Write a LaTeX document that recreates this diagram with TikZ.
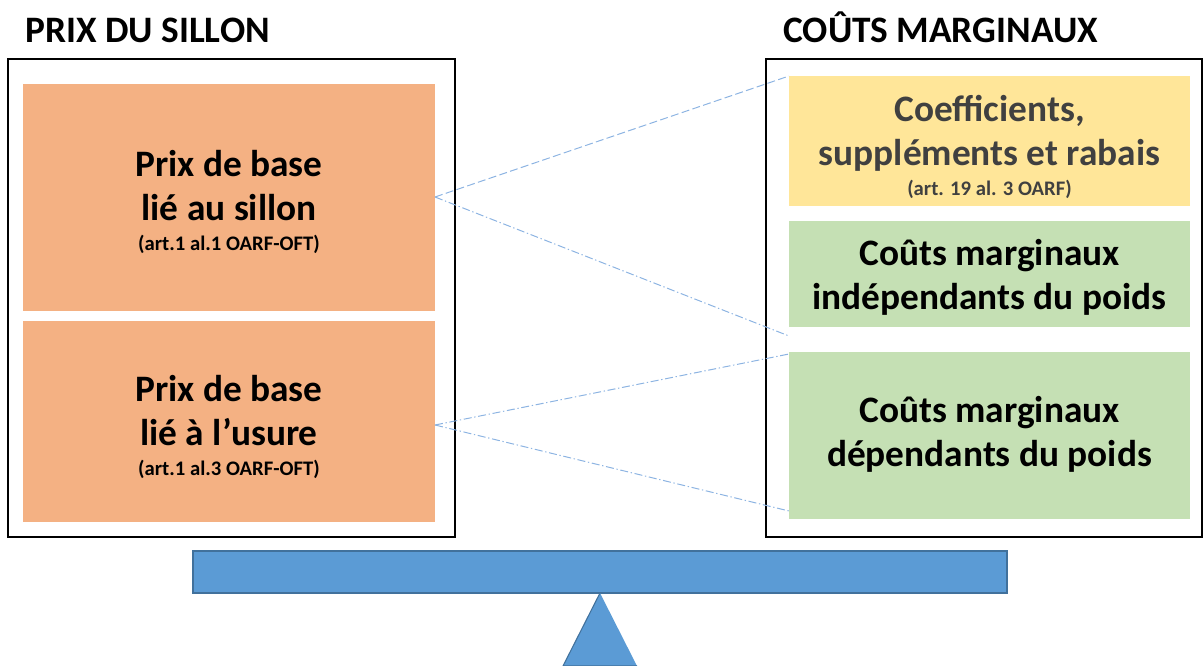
\documentclass[tikz,border=0pt]{standalone}
\usepackage{fontspec}
\setmainfont{Carlito}
\definecolor{orangebox}{HTML}{F4B183}
\definecolor{yellowbox}{HTML}{FFE699}
\definecolor{greenbox}{HTML}{C5E0B4}
\definecolor{beamblue}{HTML}{5B9BD5}
\definecolor{beamedge}{HTML}{41719C}
\definecolor{linkblue}{HTML}{8DB4E2}
\definecolor{graytext}{HTML}{404040}
\tikzset{
  frame/.style={draw=black, line width=1.2pt},
  pbox/.style={inner sep=0pt, align=center, font=\bfseries\fontsize{28}{33}\selectfont},
  title/.style={anchor=base west, inner sep=0pt, font=\bfseries\fontsize{28}{33}\selectfont},
  linkdash/.style={draw=linkblue, line width=0.75pt, dash pattern=on 6pt off 2.5pt},
  linkdot/.style={draw=linkblue, line width=0.75pt, dash pattern=on 6pt off 2pt on 1pt off 2pt},
}
\newcommand{\smalltxt}[1]{{\fontsize{15.5}{18}\selectfont #1}}
\begin{document}
\begin{tikzpicture}[x=0.75pt, y=-0.75pt]
\useasboundingbox (0,0) rectangle (1203,666);
% titles
\node[title] (t1) at (25,43) {PRIX DU SILLON};
\node[title] (t2) at (783,43) {COÛTS MARGINAUX};
% frames
\draw[frame] (8,59) rectangle (455,537);
\draw[frame] (766,59) rectangle (1202,537);
% left boxes
\fill[orangebox] (23,84) rectangle (435,311);
\node[pbox] (pb1) at (229,202) {Prix de base\\lié au sillon\\[-10.5pt]\smalltxt{(art.1 al.1 OARF-OFT)}};
\coordinate (pb1e) at (435,197);
\fill[orangebox] (23,321) rectangle (435,522);
\node[pbox] (pb2) at (229,427) {Prix de base\\lié à l’usure\\[-10.5pt]\smalltxt{(art.1 al.3 OARF-OFT)}};
\coordinate (pb2e) at (435,425);
% right boxes
\fill[yellowbox] (789,76) rectangle (1190,206);
\node[pbox, text=graytext] (cm1) at (989.5,147) {Coefficients,\\suppléments et rabais\\[-10.5pt]\smalltxt{(art. 19 al. 3 OARF)}};
\fill[greenbox] (789,221) rectangle (1190,327);
\node[pbox] (cm2) at (989.5,277) {Coûts marginaux\\indépendants du poids};
\fill[greenbox] (789,352) rectangle (1190,519);
\node[pbox] (cm3) at (989.5,434) {Coûts marginaux\\dépendants du poids};
% link end points
\coordinate (e1) at (789,76);
\coordinate (e2) at (789,336);
\coordinate (e3) at (789,354);
\coordinate (e4) at (789,511);
\draw[linkdash] (pb1e) -- (e1);
\draw[linkdot] (pb1e) -- (e2);
\draw[linkdot] (pb2e) -- (e3);
\draw[linkdot] (pb2e) -- (e4);
% balance
\draw[fill=beamblue, draw=beamedge, line width=0.8pt] (193,551) rectangle (1007,593);
\draw[fill=beamblue, draw=beamedge, line width=0.8pt] (600,593) -- (563,666) -- (637,666);
\end{tikzpicture}
\end{document}
